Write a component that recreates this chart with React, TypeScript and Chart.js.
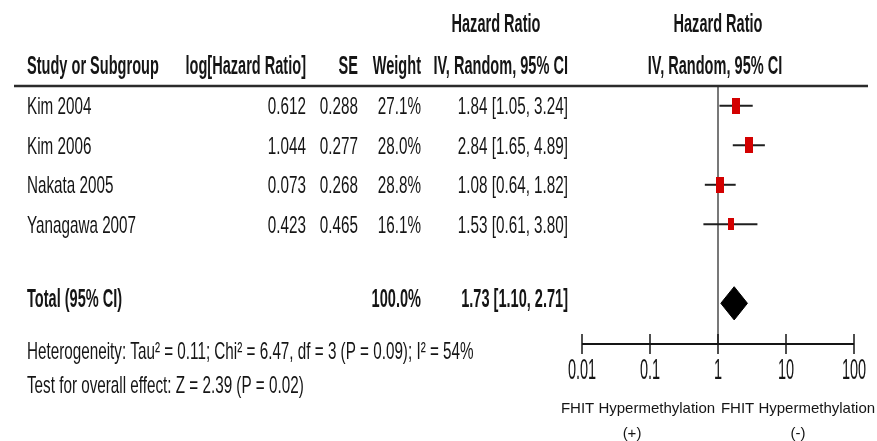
import React, { useEffect, useRef } from "react";
import { Chart, registerables } from "chart.js";

Chart.register(...registerables);

// Study-level results
const studies = ["Kim 2004", "Kim 2006", "Nakata 2005", "Yanagawa 2007"];
const logHR = [0.612, 1.044, 0.073, 0.423];
const stdErr = [0.288, 0.277, 0.268, 0.465];
const weights = [27.1, 28.0, 28.8, 16.1];
const hazardRatios = [1.84, 2.84, 1.08, 1.53];
const ciLower = [1.05, 1.65, 0.64, 0.61];
const ciUpper = [3.24, 4.89, 1.82, 3.8];

// Pooled estimate
const totalLabel = "Total (95% CI)";
const totalWeight = 100.0;
const totalHR = 1.73;
const totalLower = 1.1;
const totalUpper = 2.71;

const heterogeneityText =
  "Heterogeneity: Tau\u00b2 = 0.11; Chi\u00b2 = 6.47, df = 3 (P = 0.09); I\u00b2 = 54%";
const overallEffectText = "Test for overall effect: Z = 2.39 (P = 0.02)";

const axisTicks = [0.01, 0.1, 1, 10, 100];
const axisTickLabels = ["0.01", "0.1", "1", "10", "100"];
const favoursLeft = ["FHIT Hypermethylation", "(+)"];
const favoursRight = ["FHIT Hypermethylation", "(-)"];

// row slots on the vertical axis
const studyRows = [1, 2, 3, 4];
const totalRow = 6;

const RED = "#d30000";
const INK = "#151515";
const NARROW = "Liberation Sans, Arial, sans-serif";

function narrowText(
  ctx: CanvasRenderingContext2D,
  text: string,
  x: number,
  y: number,
  align: "left" | "right" | "center",
  font: string,
  sx: number
) {
  ctx.save();
  ctx.font = font;
  ctx.textBaseline = "middle";
  ctx.textAlign = "left";
  ctx.fillStyle = INK;
  const w = ctx.measureText(text).width * sx;
  const x0 = align === "right" ? x - w : align === "center" ? x - w / 2 : x;
  ctx.translate(x0, y);
  ctx.scale(sx, 1);
  ctx.fillText(text, 0, 0);
  ctx.restore();
}

const ROW_FONT = `24px ${NARROW}`;
const ROW_SX = 0.635;
const BOLD_FONT = `bold 26px ${NARROW}`;
const BOLD_SX = 0.56;
const TICK_FONT = `29px ${NARROW}`;
const TICK_SX = 0.5;

const forestPlugin = {
  id: "forestTable",
  beforeDatasetsDraw(chart: any) {
    const { ctx, chartArea, scales } = chart;
    const x1 = scales.x.getPixelForValue(1);
    ctx.save();
    ctx.strokeStyle = "#1e1e1e";
    ctx.lineWidth = 1.2;
    ctx.beginPath();
    ctx.moveTo(x1, chartArea.top);
    ctx.lineTo(x1, chartArea.bottom);
    ctx.stroke();
    ctx.restore();
  },
  afterDraw(chart: any) {
    const { ctx, chartArea, scales } = chart;
    const xs = scales.x;
    const ys = scales.y;

    // column anchors of the table
    const colStudy = 27;
    const colLog = 306;
    const colSE = 358;
    const colWeight = 421;
    const colCI = 568;
    const plotCenter = (xs.getPixelForValue(0.01) + xs.getPixelForValue(100)) / 2;

    // header block
    narrowText(ctx, "Hazard Ratio", 496, 25, "center", BOLD_FONT, BOLD_SX);
    narrowText(ctx, "Hazard Ratio", plotCenter, 25, "center", BOLD_FONT, BOLD_SX);
    const hy = 67;
    narrowText(ctx, "Study or Subgroup", colStudy, hy, "left", BOLD_FONT, BOLD_SX);
    narrowText(ctx, "log[Hazard Ratio]", colLog, hy, "right", BOLD_FONT, BOLD_SX);
    narrowText(ctx, "SE", colSE, hy, "right", BOLD_FONT, BOLD_SX);
    narrowText(ctx, "Weight", colWeight, hy, "right", BOLD_FONT, BOLD_SX);
    narrowText(ctx, "IV, Random, 95% CI", colCI, hy, "right", BOLD_FONT, BOLD_SX);
    narrowText(ctx, "IV, Random, 95% CI", plotCenter - 3, hy, "center", BOLD_FONT, BOLD_SX);

    // rule under the header
    ctx.save();
    ctx.strokeStyle = "#2b2b2b";
    ctx.lineWidth = 2.5;
    ctx.beginPath();
    ctx.moveTo(14, chartArea.top);
    ctx.lineTo(868, chartArea.top);
    ctx.stroke();
    ctx.restore();

    // study rows
    studies.forEach((name, i) => {
      const y = ys.getPixelForValue(studyRows[i]) + 2;
      narrowText(ctx, name, colStudy, y, "left", ROW_FONT, ROW_SX);
      narrowText(ctx, logHR[i].toFixed(3), colLog, y, "right", ROW_FONT, ROW_SX);
      narrowText(ctx, stdErr[i].toFixed(3), colSE, y, "right", ROW_FONT, ROW_SX);
      narrowText(ctx, weights[i].toFixed(1) + "%", colWeight, y, "right", ROW_FONT, ROW_SX);
      narrowText(
        ctx,
        `${hazardRatios[i].toFixed(2)} [${ciLower[i].toFixed(2)}, ${ciUpper[i].toFixed(2)}]`,
        colCI,
        y,
        "right",
        ROW_FONT,
        ROW_SX
      );
    });

    // pooled row
    const ty = ys.getPixelForValue(totalRow) - 3;
    narrowText(ctx, totalLabel, colStudy, ty, "left", BOLD_FONT, BOLD_SX);
    narrowText(ctx, totalWeight.toFixed(1) + "%", colWeight, ty, "right", BOLD_FONT, BOLD_SX);
    narrowText(
      ctx,
      `${totalHR.toFixed(2)} [${totalLower.toFixed(2)}, ${totalUpper.toFixed(2)}]`,
      colCI,
      ty,
      "right",
      BOLD_FONT,
      BOLD_SX
    );
    narrowText(ctx, heterogeneityText, colStudy, 352, "left", ROW_FONT, ROW_SX);
    narrowText(ctx, overallEffectText, colStudy, 386, "left", ROW_FONT, ROW_SX);

    // x axis
    const ay = chartArea.bottom;
    ctx.save();
    ctx.strokeStyle = INK;
    ctx.lineWidth = 2;
    ctx.beginPath();
    ctx.moveTo(xs.getPixelForValue(axisTicks[0]), ay);
    ctx.lineTo(xs.getPixelForValue(axisTicks[axisTicks.length - 1]), ay);
    ctx.stroke();
    ctx.lineWidth = 1.5;
    axisTicks.forEach((t) => {
      const px = xs.getPixelForValue(t);
      ctx.beginPath();
      ctx.moveTo(px, ay - 10);
      ctx.lineTo(px, ay + 10);
      ctx.stroke();
    });
    ctx.restore();
    axisTicks.forEach((t, i) => {
      narrowText(ctx, axisTickLabels[i], xs.getPixelForValue(t), ay + 27, "center", TICK_FONT, TICK_SX);
    });

    // favours labels
    const lf = `15px ${NARROW}`;
    narrowText(ctx, favoursLeft[0], 638, 409, "center", lf, 1);
    narrowText(ctx, favoursLeft[1], 632, 434, "center", lf, 1);
    narrowText(ctx, favoursRight[0], 798, 409, "center", lf, 1);
    narrowText(ctx, favoursRight[1], 798, 434, "center", lf, 1);
  },
};

function makeBox(weight: number): HTMLCanvasElement {
  const c = document.createElement("canvas");
  const w = Math.round(1.5 * Math.sqrt(weight));
  const h = Math.round(3.0 * Math.sqrt(weight));
  c.width = w;
  c.height = h;
  const g = c.getContext("2d")!;
  g.fillStyle = RED;
  g.fillRect(0, 0, w, h);
  return c;
}

export default function App() {
  const ref = useRef<HTMLCanvasElement | null>(null);

  useEffect(() => {
    if (!ref.current) return;
    const boxes = weights.map(makeBox);
    const diamondHalf = 0.42;

    const ciSets = studies.map((s, i) => ({
      type: "scatter" as const,
      label: s,
      data: [
        { x: ciLower[i], y: studyRows[i] },
        { x: ciUpper[i], y: studyRows[i] },
      ],
      showLine: true,
      borderColor: "#1f1f1f",
      borderWidth: 2,
      pointRadius: 0,
      order: 2,
    }));

    const chart = new Chart(ref.current, {
      type: "scatter",
      data: {
        datasets: [
          ...ciSets,
          {
            label: "estimates",
            data: hazardRatios.map((v, i) => ({ x: v, y: studyRows[i] })),
            pointStyle: (c: any) => boxes[c.dataIndex],
            pointRadius: 4,
            order: 1,
          } as any,
          {
            label: "pooled",
            data: [
              { x: totalLower, y: totalRow },
              { x: totalHR, y: totalRow - diamondHalf },
              { x: totalUpper, y: totalRow },
              { x: totalHR, y: totalRow + diamondHalf },
              { x: totalLower, y: totalRow },
            ],
            showLine: true,
            fill: "shape",
            backgroundColor: "#000",
            borderColor: "#000",
            borderWidth: 1,
            pointRadius: 0,
            tension: 0,
            order: 0,
          } as any,
        ],
      },
      options: {
        responsive: false,
        animation: false,
        events: [],
        layout: { padding: { left: 582, right: 23, top: 86, bottom: 97 } },
        plugins: { legend: { display: false }, tooltip: { enabled: false } },
        scales: {
          x: { type: "logarithmic", min: 0.01, max: 100, display: false },
          y: { type: "linear", min: 0.5, max: 7.03, reverse: true, display: false },
        },
      },
      plugins: [forestPlugin],
    });
    return () => chart.destroy();
  }, []);

  return (
    <div style={{ position: "absolute", left: 0, top: 0, width: 877, height: 441, background: "#fff" }}>
      <canvas ref={ref} width={877} height={441} style={{ display: "block" }} />
    </div>
  );
}
